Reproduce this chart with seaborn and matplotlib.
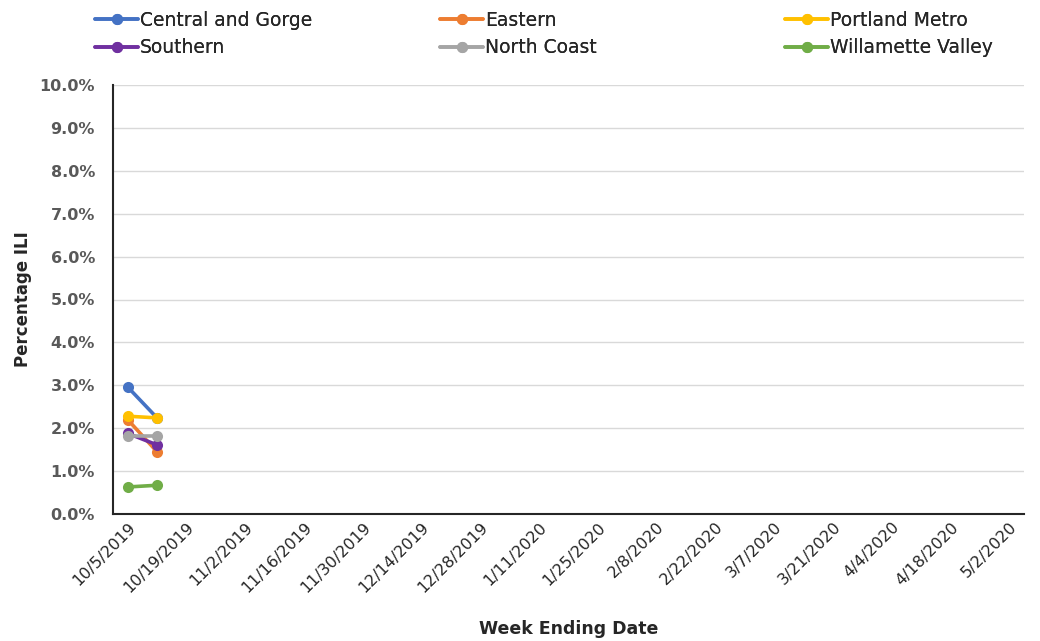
import matplotlib
matplotlib.use("Agg")
import matplotlib.pyplot as plt
import seaborn as sns
import pandas as pd
from matplotlib.ticker import PercentFormatter

# week-ending categories on the x axis
weeks = ["10/5/2019", "10/12/2019", "10/19/2019", "10/26/2019", "11/2/2019",
         "11/9/2019", "11/16/2019", "11/23/2019", "11/30/2019", "12/7/2019",
         "12/14/2019", "12/21/2019", "12/28/2019", "1/4/2020", "1/11/2020",
         "1/18/2020", "1/25/2020", "2/1/2020", "2/8/2020", "2/15/2020",
         "2/22/2020", "2/29/2020", "3/7/2020", "3/14/2020", "3/21/2020",
         "3/28/2020", "4/4/2020", "4/11/2020", "4/18/2020", "4/25/2020",
         "5/2/2020"]

# only the first two weeks have data (percent ILI)
central_gorge = [2.96, 2.24]
eastern = [2.20, 1.45]
portland_metro = [2.28, 2.24]
southern = [1.88, 1.61]
north_coast = [1.82, 1.82]
willamette_valley = [0.63, 0.67]

regions = ["Central and Gorge", "Eastern", "Portland Metro",
           "Southern", "North Coast", "Willamette Valley"]
series = [central_gorge, eastern, portland_metro,
          southern, north_coast, willamette_valley]
colors = ["#4472C4", "#ED7D31", "#FFC000", "#7030A0", "#A5A5A5", "#70AD47"]

rows = []
for name, vals in zip(regions, series):
    for i, v in enumerate(vals):
        rows.append({"week": i, "region": name, "ili": v})
df = pd.DataFrame(rows)

sns.set_theme(style="white")
plt.rcParams["font.family"] = ["DejaVu Sans"]

fig = plt.figure(figsize=(10.4, 6.41), dpi=100)
ax = fig.add_axes([113 / 1040, 1 - 514 / 641, 911 / 1040, (514 - 85) / 641])

sns.lineplot(data=df, x="week", y="ili", hue="region", hue_order=regions,
             palette=colors, marker="o", markersize=8, markeredgewidth=0,
             linewidth=2.6, ax=ax, legend=False)

ax.set_xlim(-0.5, len(weeks) - 0.5)
ax.set_ylim(0, 10)
ax.yaxis.set_major_formatter(PercentFormatter(decimals=1))
ax.set_yticks(range(0, 11))
ax.grid(axis="y", color="#D9D9D9", linewidth=1)
ax.set_axisbelow(True)

ax.set_xticks(range(0, len(weeks), 2))
ax.set_xticklabels(weeks[::2], rotation=45, ha="right", rotation_mode="anchor",
                   fontsize=11.5, color="#262626")
ax.tick_params(axis="y", labelsize=11.5, labelcolor="#595959", length=0, pad=13)
ax.tick_params(axis="x", length=0, pad=4)
for lab in ax.get_yticklabels():
    lab.set_fontweight("bold")

for side in ["top", "right"]:
    ax.spines[side].set_visible(False)
for side in ["left", "bottom"]:
    ax.spines[side].set_color("#262626")
    ax.spines[side].set_linewidth(1.5)

ax.set_xlabel("Week Ending Date", fontsize=12.5, fontweight="bold", labelpad=18)
ax.set_ylabel("Percentage ILI", fontsize=12, fontweight="bold")
ax.yaxis.set_label_coords(-81 / 911, 0.5)

# legend: three columns of two rows, like the original
handles = [plt.Line2D([], [], color=c, marker="o", markersize=7, linewidth=2.6)
           for c in colors]
col_x = [95, 440, 785]
for k, x0 in enumerate(col_x):
    idx = [k, k + 3]
    leg = fig.legend([handles[i] for i in idx], [regions[i] for i in idx],
                     loc="upper left", bbox_to_anchor=(x0 / 1040, 1 - 11 / 641),
                     frameon=False, fontsize=13.5, handlelength=2.3,
                     handletextpad=0.1, labelspacing=0.45, borderaxespad=0,
                     borderpad=0)
    fig.add_artist(leg)

fig.savefig("out.png", dpi=100)
